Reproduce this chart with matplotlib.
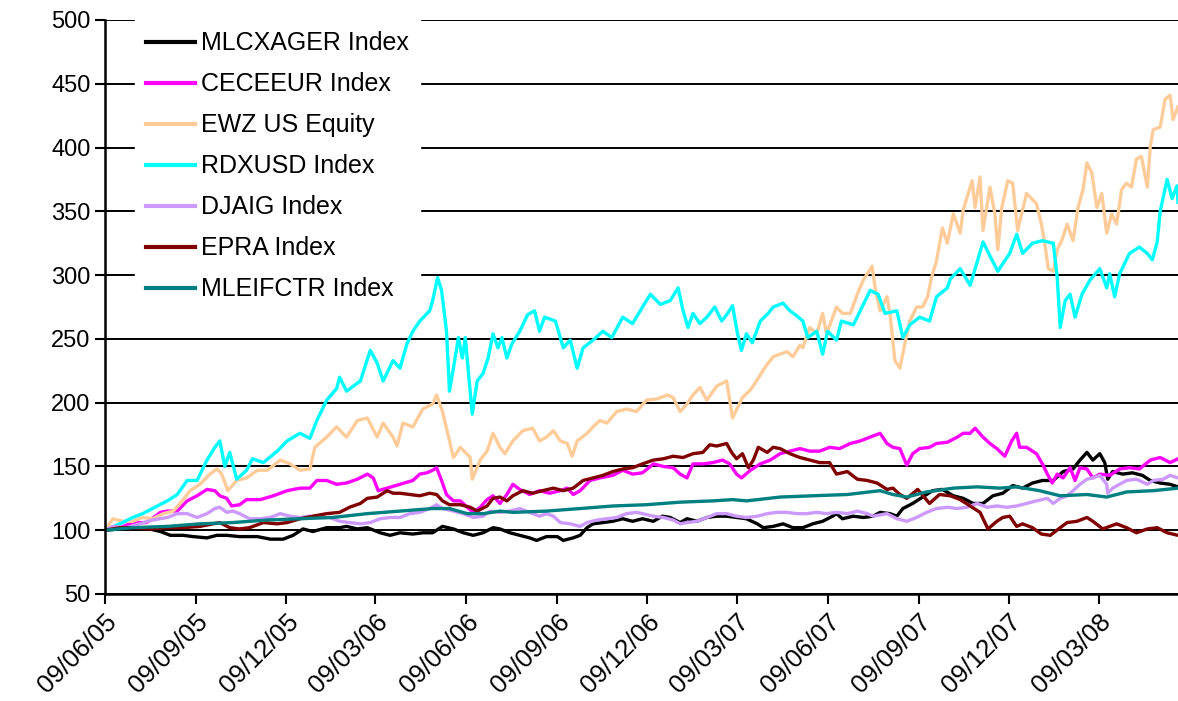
# Emerging market indices, rebased to 100 on 09/06/05
import matplotlib
matplotlib.use("Agg")
import matplotlib.pyplot as plt
import matplotlib.transforms as mtransforms
import pandas as pd

plt.rcParams['font.family'] = ['Liberation Sans', 'DejaVu Sans']

# (days after 09/06/05, rebased level)
mlcxager = [(0,100),(15,101),(28,101),(45,101),(56,99),(66,96),(79,96),(89,95),(103,94),(113,96),
            (123,96),(136,95),(154,95),(167,93),(180,93),(190,96),(200,101),(210,99),(224,102),(237,102),
            (244,103),(255,101),(265,102),(278,98),(288,96),(298,98),(311,97),(321,98),(331,98),(341,103),
            (352,101),(362,98),(372,96),(382,98),(392,102),(399,101),(409,98),(419,96),(429,94),(436,92),
            (446,95),(457,95),(463,92),(473,94),(480,96),(487,102),(493,105),(503,106),(513,107),(523,109),
            (533,107),(543,109),(554,107),(563,111),(571,110),(581,106),(588,109),(598,107),(608,110),(618,111),
            (628,111),(638,110),(648,109),(659,105),(665,102),(675,103),(685,105),(695,102),(705,102),(715,105),
            (725,107),(735,111),(739,113),(745,109),(756,111),(766,110),(776,111),(783,114),(793,113),(800,111),
            (806,117),(816,121),(826,126),(836,131),(846,132),(857,127),(867,125),(877,121),(887,121),(897,127),
            (907,129),(917,135),(927,133),(937,137),(947,139),(958,139),(968,146),(978,148),(985,155),(992,161),
            (998,155),(1005,160),(1010,153),(1013,140),(1018,146),(1028,144),(1038,145),(1048,143),(1056,139),
            (1066,137),(1076,136),(1084,134)]

ceceeur = [(0,100),(15,102),(28,106),(42,106),(56,114),(63,115),(73,115),(83,123),(93,127),(103,132),
           (111,131),(116,127),(123,125),(128,119),(136,120),(143,124),(157,124),(170,127),(184,131),(197,133),
           (207,133),(214,139),(224,139),(234,136),(244,137),(255,140),(265,144),(271,141),(276,131),(285,133),
           (298,136),(311,139),(318,144),(325,145),(331,147),(335,149),(340,139),(345,128),(352,123),(359,123),
           (366,118),(372,114),(379,118),(386,124),(392,127),(399,121),(406,128),(412,136),(419,132),(429,128),
           (439,131),(449,129),(460,131),(467,133),(473,128),(480,131),(490,139),(500,141),(513,143),(523,147),
           (533,144),(543,145),(554,152),(564,150),(574,149),(581,144),(588,141),(594,152),(604,152),(614,153),
           (624,155),(631,152),(638,144),(643,141),(652,147),(662,152),(672,155),(682,160),(692,162),(702,164),
           (712,162),(722,162),(732,165),(742,164),(753,168),(763,170),(773,173),(783,176),(790,168),(796,165),
           (803,164),(810,151),(816,160),(823,164),(833,165),(840,168),(851,169),(861,173),(867,176),(874,176),
           (879,180),(887,173),(894,168),(901,164),(909,158),(916,170),(921,176),(924,165),(931,165),(941,160),
           (947,152),(952,144),(957,137),(962,144),(968,141),(975,149),(980,139),(985,149),(992,148),(998,141),
           (1005,144),(1015,143),(1025,148),(1035,149),(1045,148),(1056,155),(1066,157),(1076,153),(1084,156)]

ewz = [(0,100),(8,109),(18,107),(28,107),(38,110),(48,109),(59,113),(69,115),(78,123),(86,131),
       (96,136),(106,144),(113,148),(118,144),(124,131),(133,139),(143,141),(154,147),(164,147),(177,155),
       (187,152),(197,147),(207,148),(212,165),(224,173),(234,181),(244,173),(255,186),(265,188),(275,173),
       (281,184),(291,173),(295,166),(301,184),(311,181),(321,195),(331,199),(335,206),(341,193),(348,170),
       (352,157),(359,165),(369,157),(371,140),(379,155),(386,162),(392,176),(399,165),(404,160),(412,170),
       (422,178),(432,180),(439,170),(446,173),(453,178),(460,170),(467,168),(472,158),(477,170),(487,176),
       (493,181),(500,186),(507,184),(517,193),(527,195),(537,193),(547,202),(558,203),(568,206),(574,204),
       (581,193),(588,199),(594,206),(601,212),(608,202),(618,213),(628,217),(634,188),(644,204),(652,210),
       (659,218),(667,228),(675,236),(689,240),(695,236),(702,245),(705,243),(712,259),(719,254),(725,270),
       (729,254),(739,275),(745,270),(753,270),(760,285),(766,296),(775,307),(778,290),(783,272),(790,283),
       (793,270),(798,233),(803,227),(808,246),(813,264),(820,275),(826,275),(831,283),(835,298),(840,311),
       (846,337),(851,325),(857,348),(864,333),(867,351),(876,374),(879,353),(884,377),(887,335),(894,369),
       (899,348),(902,320),(906,353),(912,374),(917,372),(922,335),(931,364),(941,356),(946,340),(949,327),
       (953,305),(958,303),(962,320),(967,328),(972,340),(978,327),(983,353),(988,367),(992,388),(997,380),
       (1002,353),(1007,364),(1012,333),(1017,348),(1022,340),(1027,367),(1032,372),(1037,369),(1042,391),
       (1047,393),(1053,369),(1056,401),(1059,414),(1066,416),(1071,438),(1076,441),(1079,422),(1084,432)]

rdxusd = [(0,100),(15,105),(28,110),(38,113),(48,117),(63,123),(73,128),(83,139),(93,139),(103,155),
          (111,165),(116,170),(121,150),(126,161),(133,140),(143,147),(149,156),(160,153),(174,162),(184,170),
          (197,176),(207,172),(214,186),(224,202),(234,211),(237,220),(244,209),(258,217),(268,241),(275,231),
          (281,217),(291,233),(298,227),(305,246),(311,256),(318,264),(328,272),(331,280),(336,298),(340,288),
          (345,256),(348,209),(352,227),(357,251),(361,235),(364,251),(371,191),(376,217),(382,223),(387,235),
          (392,254),(397,243),(401,251),(406,235),(411,246),(419,256),(427,269),(434,272),(439,256),(444,267),
          (455,264),(460,251),(463,243),(470,249),(477,227),(483,243),(493,249),(503,256),(512,251),(523,267),
          (533,262),(543,275),(551,285),(561,277),(571,280),(579,290),(584,272),(589,259),(594,270),(601,262),
          (608,267),(616,275),(623,264),(629,270),(634,276),(639,254),(643,241),(648,254),(654,247),(662,264),
          (670,270),(675,275),(685,278),(692,272),(699,268),(705,264),(710,251),(719,256),(725,238),(730,256),
          (739,249),(744,264),(756,261),(763,272),(773,288),(781,285),(788,270),(800,272),(806,251),(813,261),
          (823,267),(833,264),(840,283),(851,290),(854,297),(864,305),(874,292),(881,310),(887,326),(894,315),
          (902,303),(907,309),(914,317),(921,332),(927,317),(937,325),(947,327),(958,325),(962,298),(965,259),
          (970,280),(975,285),(980,267),(987,285),(995,296),(1005,305),(1012,290),(1015,301),(1020,283),(1025,301),
          (1035,317),(1045,322),(1053,317),(1058,312),(1063,326),(1066,350),(1073,375),(1078,360),(1083,370),
          (1084,357)]

djaig = [(0,100),(8,103),(22,102),(35,105),(48,108),(63,110),(73,113),(83,113),(93,110),(103,113),
         (111,117),(116,118),(123,114),(129,115),(136,113),(146,109),(157,109),(167,110),(177,113),(187,111),
         (197,110),(207,111),(217,110),(227,110),(237,107),(247,106),(258,105),(268,106),(278,109),(288,110),
         (298,110),(308,113),(318,114),(328,117),(335,120),(341,117),(352,115),(362,113),(372,110),(382,111),
         (389,115),(399,114),(409,115),(419,117),(429,114),(439,111),(446,113),(453,111),(460,106),(470,105),
         (480,103),(487,106),(497,108),(507,109),(517,110),(527,113),(537,114),(543,113),(554,111),(564,110),
         (574,108),(581,105),(588,106),(598,107),(608,110),(618,113),(628,113),(638,111),(648,110),(659,111),
         (669,113),(679,114),(689,114),(699,113),(709,113),(719,114),(729,113),(739,114),(750,113),(760,115),
         (770,113),(776,111),(790,113),(800,109),(810,107),(820,110),(830,114),(840,117),(851,118),(861,117),
         (871,118),(881,121),(891,118),(901,119),(911,118),(921,119),(931,121),(941,123),(952,125),(958,121),
         (965,125),(972,127),(978,131),(985,136),(992,140),(998,141),(1005,143),(1012,136),(1013,129),(1018,133),
         (1025,136),(1032,139),(1042,140),(1053,136),(1059,139),(1069,140),(1076,143),(1084,141)]

epra = [(0,100),(15,102),(28,102),(45,101),(63,102),(79,102),(96,103),(109,105),(116,106),(126,102),
        (136,101),(146,102),(160,106),(174,105),(184,106),(197,109),(210,111),(224,113),(237,114),(247,118),
        (258,121),(265,125),(275,126),(285,131),(291,129),(298,129),(308,128),(318,127),(328,129),(335,128),
        (341,123),(348,120),(359,120),(369,118),(376,115),(386,119),(392,125),(399,126),(406,123),(412,127),
        (422,131),(432,129),(442,131),(453,133),(463,131),(473,133),(483,139),(493,141),(503,143),(513,146),
        (523,148),(533,149),(543,152),(554,155),(564,156),(574,158),(584,157),(594,160),(604,161),(611,167),
        (618,166),(628,168),(633,161),(638,156),(644,160),(650,149),(655,155),(660,165),(669,161),(675,165),
        (682,164),(692,160),(702,157),(712,155),(722,153),(732,153),(739,144),(750,146),(760,140),(770,139),
        (780,137),(790,132),(796,133),(803,128),(810,125),(821,132),(833,121),(843,128),(854,127),(864,124),
        (874,119),(884,114),(892,101),(901,107),(907,110),(914,111),(921,103),(927,105),(937,102),(946,97),
        (955,96),(965,102),(972,106),(982,107),(992,110),(998,107),(1008,101),(1022,105),(1032,102),(1042,98),
        (1053,101),(1063,102),(1073,98),(1084,96)]

mleifctr = [(0,100),(28,102),(63,103),(96,105),(129,106),(164,108),(197,109),(230,110),(265,113),(298,115),
            (331,117),(348,117),(366,113),(382,113),(399,115),(412,114),(446,115),(480,117),(513,119),(547,120),
            (581,122),(614,123),(634,124),(648,123),(682,126),(715,127),(750,128),(783,131),(796,128),(810,126),
            (830,130),(857,133),(881,134),(904,133),(921,134),(944,131),(965,127),(992,128),(1012,126),(1032,130),
            (1059,131),(1084,133)]

names = ['MLCXAGER Index', 'CECEEUR Index', 'EWZ US Equity', 'RDXUSD Index',
         'DJAIG Index', 'EPRA Index', 'MLEIFCTR Index']
colors = ['#000000', '#FF00FF', '#FFCC99', '#00FFFF', '#CC99FF', '#800000', '#008080']
data = [mlcxager, ceceeur, ewz, rdxusd, djaig, epra, mleifctr]

start = pd.Timestamp('2005-06-09')
tick_dates = [start + pd.DateOffset(months=3 * i) for i in range(12)]

fig = plt.figure(figsize=(11.78, 7.01), dpi=100)
ax = fig.add_axes([105 / 1178, 1 - 594 / 701, 1 - 105 / 1178, (594 - 20) / 701])

for name, pts, c in zip(names, data, colors):
    d, v = zip(*pts)
    ax.plot(start + pd.to_timedelta(list(d), unit='D'), v, color=c, lw=2.4, label=name)

ax.set_ylim(50, 500)
ax.set_yticks(range(50, 501, 50))
ax.set_xlim(start, start + pd.Timedelta(days=1084))
ax.set_xticks(tick_dates)
ax.set_xticklabels([t.strftime('%d/%m/%y') for t in tick_dates],
                   rotation=45, ha='right', va='top', rotation_mode='anchor', fontsize=18.5)
# nudge rotated date labels left, as in the original
shift = mtransforms.ScaledTranslation(-11 / 100, 0, fig.dpi_scale_trans)
for lab in ax.get_xticklabels():
    lab.set_transform(lab.get_transform() + shift)

ax.yaxis.grid(True, color='black', lw=1.4)
ax.set_axisbelow(True)
for s in ['top', 'right']:
    ax.spines[s].set_visible(False)
for s in ['left', 'bottom']:
    ax.spines[s].set_linewidth(1.8)
ax.tick_params(axis='both', direction='out', length=7, width=1.5, colors='black')
ax.tick_params(axis='y', labelsize=17)
ax.tick_params(axis='x', pad=4)

leg = ax.legend(loc='upper left', bbox_to_anchor=(0.028, 1.0), borderaxespad=0,
                fontsize=18, frameon=True, fancybox=False, framealpha=1,
                edgecolor='white', facecolor='white', handlelength=1.95,
                handletextpad=0.25, labelspacing=0.68, borderpad=0.45)
for ln in leg.get_lines():
    ln.set_linewidth(3)

fig.savefig('out.png', dpi=100)
